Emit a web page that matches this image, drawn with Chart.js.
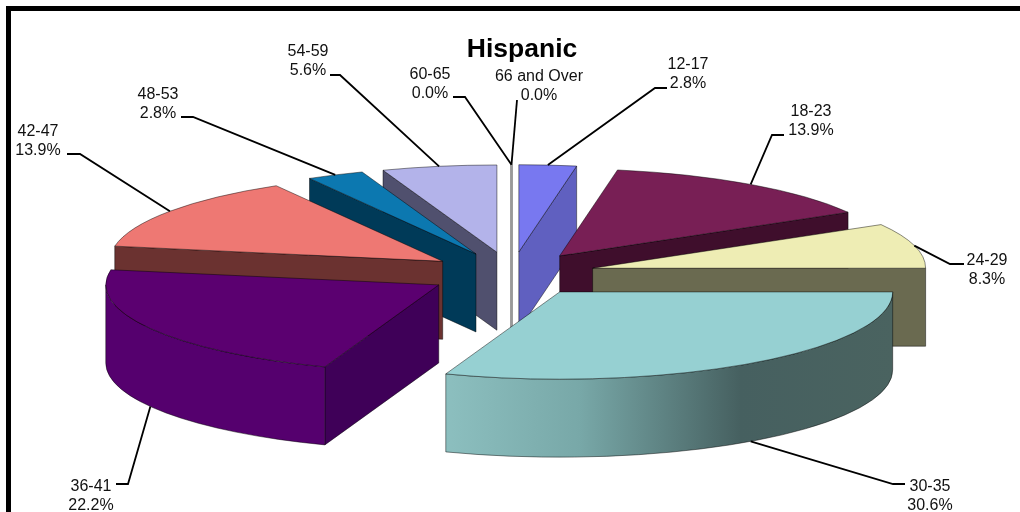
<!DOCTYPE html>
<html>
<head>
<meta charset="utf-8">
<script src="https://cdn.jsdelivr.net/npm/chart.js@4"></script>
<style>
	body { margin: 0; background: #fff; }
	canvas { display: block; }
</style>
</head>
<body>
<canvas id="myChart" width="1020" height="512"></canvas>
<script>
	// survey counts per age group, the percentages on the labels come from these
	const categories = ['12-17', '18-23', '24-29', '30-35', '36-41', '42-47', '48-53', '54-59', '60-65', '66 and Over'];
	const counts = [1, 5, 3, 11, 8, 5, 1, 2, 0, 0];

	const topColors = ['#7878F0', '#781F55', '#EEEDB4', '#96D0D2', '#5B0070', '#EE7873', '#0C78B0', '#B3B3EA', '#999999', '#999999'];
	const sideColors = ['#6060C0', '#3F0E2C', '#6A6A50', '#4A6360', '#3F0058', '#6B3230', '#003A58', '#50506E', '#999999', '#999999'];
	const rimColors = ['#6060C0', '#3F0E2C', '#6A6A50', 'gradient', '#55006E', '#6B3230', '#003A58', '#50506E', '#999999', '#999999'];

	// where each label sits: text x, first line y, elbow x, elbow y, stub end x
	const labelSpots = [
		[688, 65, 655, 88, 667],
		[811, 112, 772, 135, 784],
		[987, 261, 950, 264, 964],
		[930, 487, 893, 484, 905],
		[91, 487, 128, 484, 116],
		[38, 132, 80, 154, 67],
		[158, 95, 193, 117, 181],
		[308, 52, 340, 75, 330],
		[430, 75, 465, 97, 453],
		[539, 77, 517, 100, 517]
	];

	const squash = 0.262;
	const explode = 84;
	const depth = 78;
	const total = counts.reduce((a, b) => a + b, 0);

	const pie3d = {
		id: 'pie3d',
		afterLayout(chart) {
			// title sits a bit right of the pie centre
			chart.titleBlock.left += 10.5;
			chart.titleBlock.right += 10.5;
		},
		beforeDraw(chart) {
			const ctx = chart.ctx;
			ctx.fillStyle = '#000';
			ctx.fillRect(6, 6, 1014, 5);
			ctx.fillRect(6, 6, 5, 506);
		},
		beforeDatasetsDraw(chart) {
			const ctx = chart.ctx;
			const arcs = chart.getDatasetMeta(0).data;
			const order = arcs.map((arc, i) => i).sort((a, b) => Math.sin(mid(arcs[a])) - Math.sin(mid(arcs[b])));
			order.forEach(i => drawSlice(ctx, arcs[i], i));
			arcs.forEach((arc, i) => drawLabel(ctx, arc, i));
			return false;
		}
	};

	function mid(arc) {
		return (arc.startAngle + arc.endAngle) / 2;
	}

	function centerOf(arc) {
		return {
			x: arc.x + explode * Math.cos(mid(arc)),
			y: arc.y + explode * Math.sin(mid(arc)) * squash
		};
	}

	function rimPoint(arc, angle) {
		const c = centerOf(arc);
		return {
			x: c.x + arc.outerRadius * Math.cos(angle),
			y: c.y + arc.outerRadius * Math.sin(angle) * squash
		};
	}

	function drawCut(ctx, arc, angle, color) {
		const c = centerOf(arc);
		const p = rimPoint(arc, angle);
		ctx.beginPath();
		ctx.moveTo(c.x, c.y);
		ctx.lineTo(p.x, p.y);
		ctx.lineTo(p.x, p.y + depth);
		ctx.lineTo(c.x, c.y + depth);
		ctx.closePath();
		ctx.fillStyle = color;
		ctx.fill();
		ctx.stroke();
	}

	function drawRim(ctx, arc, color) {
		const from = Math.max(arc.startAngle, 0);
		const to = Math.min(arc.endAngle, Math.PI);
		if (to <= from) return;
		const c = centerOf(arc);
		const r = arc.outerRadius;
		ctx.beginPath();
		ctx.ellipse(c.x, c.y, r, r * squash, 0, from, to);
		ctx.ellipse(c.x, c.y + depth, r, r * squash, 0, to, from, true);
		ctx.closePath();
		if (color === 'gradient') {
			const g = ctx.createLinearGradient(rimPoint(arc, to).x, 0, rimPoint(arc, from).x, 0);
			g.addColorStop(0, '#8CBFBF');
			g.addColorStop(0.3, '#78A8A8');
			g.addColorStop(0.66, '#466060');
			g.addColorStop(1, '#4A6360');
			color = g;
		}
		ctx.fillStyle = color;
		ctx.fill();
		ctx.stroke();
	}

	function drawSlice(ctx, arc, i) {
		const c = centerOf(arc);
		const r = arc.outerRadius;
		ctx.save();
		ctx.lineWidth = 1;
		ctx.lineJoin = 'round';
		ctx.strokeStyle = 'rgba(0,0,0,0.45)';

		// empty groups are only a line
		if (arc.circumference === 0) {
			const p = rimPoint(arc, arc.startAngle);
			ctx.strokeStyle = sideColors[i];
			ctx.lineWidth = 2.5;
			ctx.beginPath();
			ctx.moveTo(p.x, p.y);
			ctx.lineTo(c.x, c.y + depth);
			ctx.stroke();
			ctx.restore();
			return;
		}

		if (Math.cos(arc.startAngle) < 0) drawCut(ctx, arc, arc.startAngle, sideColors[i]);
		if (Math.cos(arc.endAngle) > 0) drawCut(ctx, arc, arc.endAngle, sideColors[i]);
		drawRim(ctx, arc, rimColors[i]);

		// top face is the library's own arc, flattened and pulled out
		ctx.save();
		ctx.translate(arc.x, arc.y);
		ctx.scale(1, squash);
		ctx.translate(-arc.x, -arc.y);
		ctx.translate(explode * Math.cos(mid(arc)), explode * Math.sin(mid(arc)));
		arc.draw(ctx);
		ctx.restore();

		ctx.beginPath();
		ctx.moveTo(c.x, c.y);
		ctx.ellipse(c.x, c.y, r, r * squash, 0, arc.startAngle, arc.endAngle);
		ctx.closePath();
		ctx.stroke();
		ctx.restore();
	}

	function drawLabel(ctx, arc, i) {
		const [tx, ty, ex, ey, sx] = labelSpots[i];
		const p = rimPoint(arc, mid(arc));
		const front = Math.sin(mid(arc)) > 0 ? depth : 0;
		ctx.save();
		ctx.strokeStyle = '#000';
		ctx.lineWidth = 1.8;
		ctx.beginPath();
		ctx.moveTo(p.x, p.y + front);
		ctx.lineTo(ex, ey);
		ctx.lineTo(sx, ey);
		ctx.stroke();
		ctx.fillStyle = '#111';
		ctx.font = '16px "Liberation Sans", Arial, sans-serif';
		ctx.textAlign = 'center';
		ctx.textBaseline = 'middle';
		ctx.fillText(categories[i], tx, ty);
		ctx.fillText((counts[i] / total * 100).toFixed(1) + '%', tx, ty + 18.5);
		ctx.restore();
	}

	new Chart(document.getElementById('myChart'), {
		type: 'pie',
		data: {
			labels: categories,
			datasets: [{
				data: counts,
				backgroundColor: topColors,
				borderWidth: 0
			}]
		},
		options: {
			responsive: false,
			animation: false,
			radius: 333,
			layout: { padding: { left: 3, bottom: 30 } },
			plugins: {
				legend: { display: false },
				tooltip: { enabled: false },
				title: {
					display: true,
					text: 'Hispanic',
					color: '#000',
					padding: { top: 34, bottom: 0 },
					font: { size: 26.5, weight: 'bold', family: '"Liberation Sans", Arial, sans-serif' }
				}
			}
		},
		plugins: [pie3d]
	});
</script>
</body>
</html>
